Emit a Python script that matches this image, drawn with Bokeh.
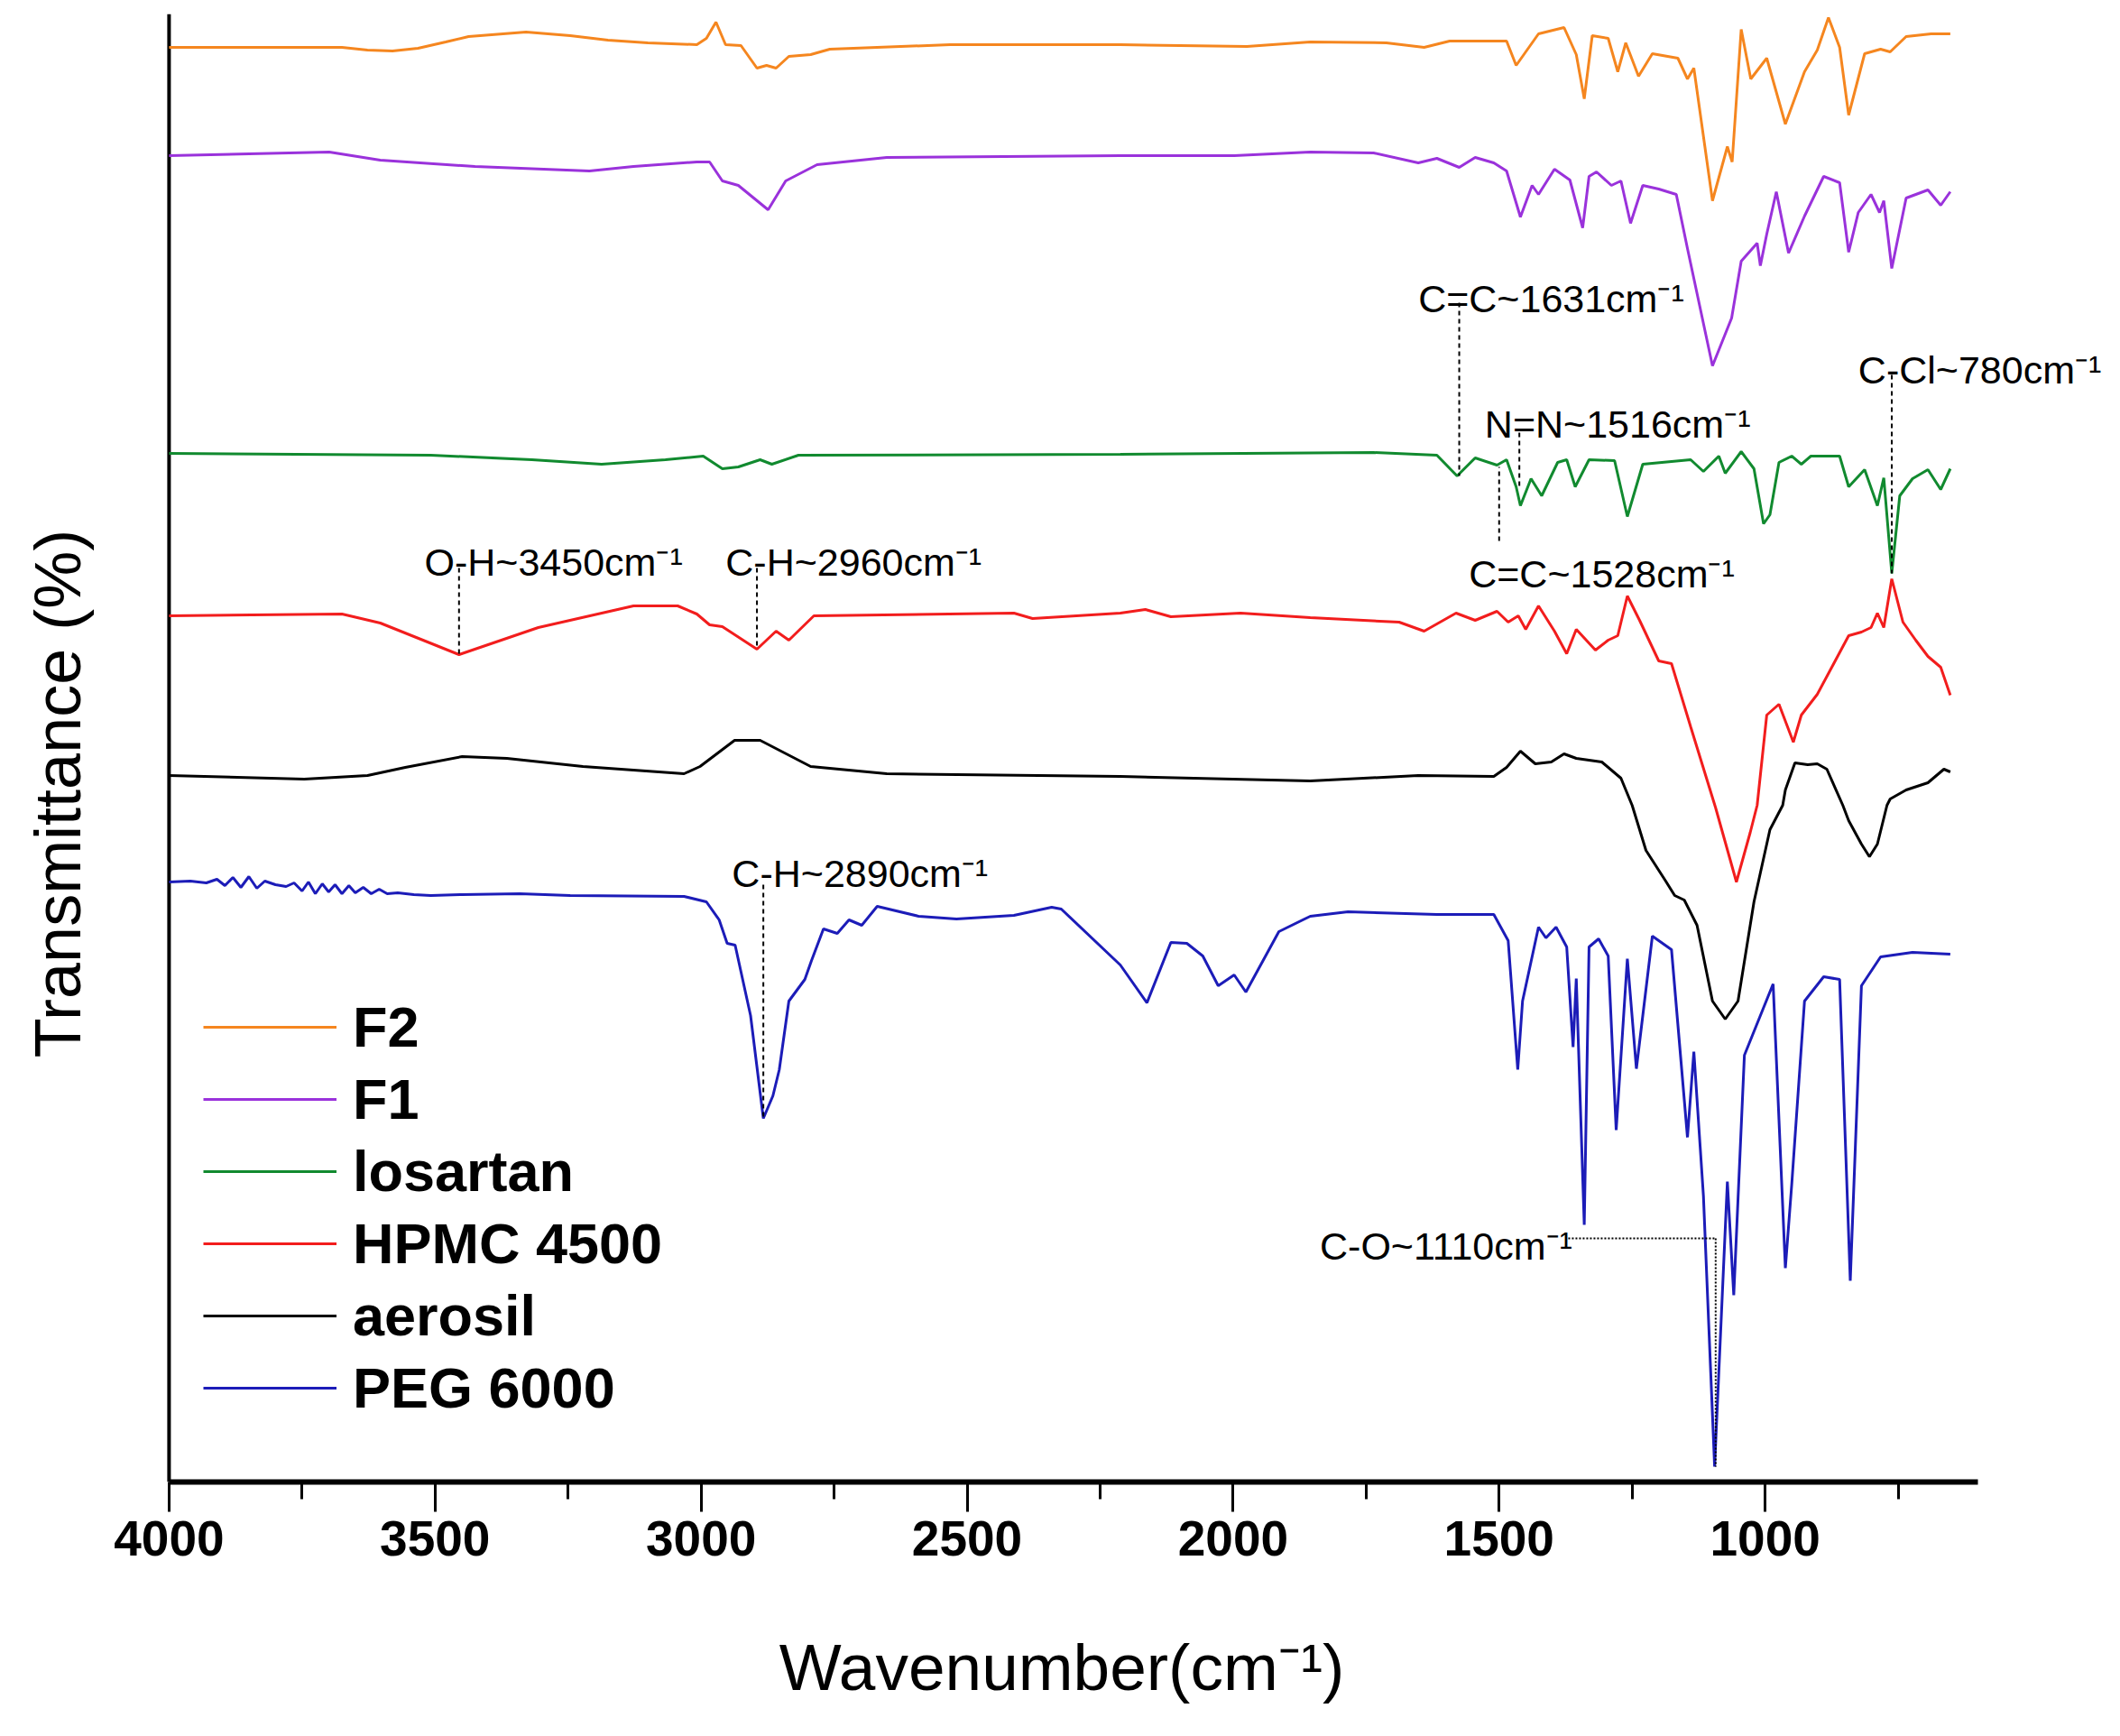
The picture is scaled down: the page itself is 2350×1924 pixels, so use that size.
import math

from bokeh.plotting import figure
from bokeh.models import Range1d, FixedTicker, Legend, LegendItem, Label
from bokeh.embed import file_html
from bokeh.resources import INLINE

# FTIR spectra, values (arbitrary transmittance units, curves offset)
f2_wn = [4000, 3675, 3627, 3580, 3532, 3480, 3437, 3329, 3246, 3175, 3100, 3008, 2990, 2972, 2954,
         2925, 2895, 2877, 2859, 2835, 2794, 2758, 2532, 2212, 1974, 1855, 1712, 1641, 1593, 1486,
         1468, 1426, 1378, 1355, 1340, 1325, 1295, 1277, 1262, 1238, 1212, 1164, 1146, 1134, 1099,
         1071, 1062, 1045, 1027, 997, 962, 926, 902, 881, 860, 843, 813, 783, 765, 735, 688, 652]
f2_t = [1590, 1590, 1587, 1586, 1589, 1596, 1602, 1607, 1603, 1598, 1595, 1593, 1600, 1618, 1593,
        1592, 1567, 1570, 1567, 1580, 1582, 1588, 1593, 1593, 1591, 1596, 1595, 1590, 1597, 1597,
        1570, 1605, 1612, 1582, 1533, 1603, 1600, 1563, 1595, 1558, 1583, 1578, 1555, 1567, 1420,
        1480, 1463, 1610, 1555, 1578, 1505, 1563, 1587, 1623, 1590, 1515, 1583, 1588, 1585, 1602,
        1605, 1605]

f1_wn = [4000, 3699, 3603, 3425, 3210, 3127, 3008, 2984, 2960, 2930, 2874, 2841, 2782, 2651, 2212,
         1998, 1855, 1736, 1652, 1617, 1575, 1545, 1510, 1486, 1460, 1438, 1426, 1396, 1367, 1343,
         1331, 1317, 1289, 1271, 1253, 1230, 1200, 1167, 1146, 1099, 1063, 1045, 1015, 1009, 997,
         979, 956, 926, 890, 860, 843, 825, 801, 785, 777, 762, 735, 694, 670, 652]
f1_t = [1470, 1474, 1465, 1458, 1453, 1458, 1463, 1463, 1442, 1437, 1410, 1442, 1460, 1468, 1470,
        1470, 1474, 1473, 1462, 1467, 1457, 1468, 1462, 1453, 1402, 1437, 1427, 1455, 1443, 1390,
        1447, 1452, 1437, 1442, 1395, 1437, 1433, 1427, 1367, 1237, 1290, 1353, 1373, 1348, 1383,
        1430, 1362, 1403, 1447, 1440, 1363, 1407, 1427, 1407, 1420, 1345, 1423, 1432, 1415, 1430]

los_wn = [4000, 3508, 3318, 3187, 3067, 2996, 2960, 2930, 2889, 2867, 2817, 2212, 1736, 1617, 1579,
          1545, 1504, 1486, 1468, 1460, 1440, 1420, 1390, 1373, 1357, 1331, 1283, 1259, 1230, 1140,
          1116, 1087, 1075, 1045, 1021, 1003, 991, 974, 950, 932, 914, 860, 843, 813, 789,
          777, 762, 747, 723, 694, 670, 652]
los_t = [1140, 1138, 1133, 1128, 1133, 1137, 1123, 1125, 1133, 1128, 1138, 1139, 1141, 1138, 1115,
         1135, 1127, 1133, 1103, 1082, 1112, 1093, 1130, 1133, 1103, 1133, 1132, 1070, 1128, 1133,
         1120, 1137, 1118, 1142, 1123, 1062, 1072, 1130, 1137, 1128, 1137, 1137, 1103, 1122, 1082,
         1113, 1007, 1093, 1112, 1122, 1100, 1123]

hpmc_wn = [4000, 3675, 3603, 3455, 3306, 3127, 3044, 3008, 2984, 2960, 2895, 2859, 2835, 2788, 2412,
           2377, 2212, 2165, 2117, 1986, 1855, 1688, 1641, 1581, 1545, 1504, 1483, 1464, 1450, 1426,
           1396, 1373, 1355, 1319, 1295, 1277, 1259, 1236, 1200, 1176, 1140, 1093, 1054, 1028, 1015,
           997, 974, 947, 932, 902, 843, 819, 801, 789, 777, 762, 741, 717, 694, 670, 652]
hpmc_t = [960, 962, 952, 917, 947, 971, 971, 962, 950, 948, 923, 943, 933, 960, 963,
          957, 963, 967, 959, 963, 958, 953, 943, 963, 955, 965, 953, 960, 945, 971,
          943, 918, 945, 922, 933, 938, 982, 955, 910, 907, 837, 747, 665, 720, 750,
          850, 862, 820, 850, 873, 938, 942, 947, 963, 947, 1001, 953, 933, 915, 903, 872]

aer_wn = [4000, 3746, 3627, 3556, 3449, 3365, 3222, 3032, 3002, 2937, 2889, 2794, 2651, 2212, 1855,
          1652, 1510, 1486, 1460, 1432, 1402, 1378, 1355, 1307, 1271, 1250, 1224, 1188, 1170, 1152,
          1128, 1099, 1075, 1051, 1021, 991, 967, 962, 944, 920, 902, 884, 854, 843, 819,
          804, 789, 771, 765, 735, 694, 664, 652]
aer_t = [783, 779, 783, 792, 804, 802, 793, 785, 793, 822, 822, 793, 785, 782, 777,
         783, 782, 792, 810, 796, 798, 807, 802, 798, 780, 750, 700, 667, 650, 645,
         617, 533, 513, 533, 643, 723, 750, 767, 797, 795, 796, 790, 750, 733, 707,
         693, 707, 750, 757, 767, 775, 790, 787]

peg_wn = [4000, 3960, 3930, 3910, 3895, 3880, 3865, 3850, 3835, 3820, 3800, 3780, 3765, 3750, 3738,
          3725, 3712, 3700, 3688, 3675, 3662, 3650, 3635, 3620, 3605, 3590, 3570, 3540, 3508, 3450,
          3341, 3246, 3032, 2990, 2966, 2951, 2936, 2907, 2883, 2865, 2853, 2835, 2805, 2793, 2770,
          2744, 2722, 2698, 2669, 2591, 2520, 2412, 2341, 2323, 2212, 2162, 2117, 2087, 2057, 2028,
          1998, 1976, 1914, 1855, 1784, 1617, 1510, 1483, 1465, 1456, 1426, 1412, 1393, 1373, 1361,
          1355, 1340, 1331, 1313, 1295, 1280, 1259, 1242, 1212, 1176, 1146, 1134, 1116, 1095, 1071,
          1059, 1039, 985, 962, 950, 926, 890, 860, 840, 819, 783, 723, 652]
peg_t = [665, 666, 664, 668, 661, 670, 659, 671, 658, 666, 662, 660, 664, 655, 665,
         652, 663, 654, 662, 652, 661, 653, 659, 652, 657, 652, 653, 651, 650, 651,
         652, 650, 649, 643, 623, 597, 595, 517, 403, 428, 457, 533, 557, 577, 613,
         608, 623, 617, 638, 627, 624, 628, 637, 635, 573, 531, 598, 597, 583, 550,
         562, 543, 610, 627, 632, 629, 629, 600, 457, 533, 615, 603, 615, 593, 482,
         558, 285, 593, 602, 583, 390, 580, 458, 605, 590, 382, 477, 317, 17, 333,
         207, 473, 552, 237, 330, 533, 560, 557, 223, 550, 582, 587, 585]

series = [("F2", f2_wn, f2_t, "#F5861F"),
          ("F1", f1_wn, f1_t, "#9A32DB"),
          ("losartan", los_wn, los_t, "#118A2F"),
          ("HPMC 4500", hpmc_wn, hpmc_t, "#F21D1D"),
          ("aerosil", aer_wn, aer_t, "#000000"),
          ("PEG 6000", peg_wn, peg_t, "#1C1CB8")]

major_ticks = [4000, 3500, 3000, 2500, 2000, 1500, 1000]
minor_ticks = [3750, 3250, 2750, 2250, 1750, 1250, 750]
wn_start, wn_end = 4000, 600      # extent of the drawn x axis
t_top = 1627                      # top of the y axis

# peak labels: left edge / baseline of the text, and the dashed marker lines
ann_text = ["O-H~3450cm⁻¹", "C-H~2960cm⁻¹", "C-H~2890cm⁻¹", "C=C~1631cm⁻¹",
            "N=N~1516cm⁻¹", "C=C~1528cm⁻¹", "C-Cl~780cm⁻¹", "C-O~1110cm⁻¹"]
ann_x = [3520, 2954, 2942, 1652, 1527, 1557, 825, 1837]
ann_y = [1020, 1020, 675, 1312, 1173, 1007, 1233, 262]
mark_x = [3455, 2895, 2883, 1575, 1462, 1500, 762]
mark_top = [1013, 1013, 662, 1307, 1163, 1043, 1227]
mark_bot = [917, 923, 403, 1115, 1103, 1125, 1007]
co_x = [1370, 1093]
co_y = [270, 17]

FONT = "Liberation Sans"

# the frame is wider than the drawn axes on both sides, so that the C-Cl label
# is not cut and the titles sit where they do in the original
p = figure(width=2334, height=1908, x_range=Range1d(4283, 361), y_range=Range1d(0, t_top),
           output_backend="svg", toolbar_location=None,
           min_border_left=20, min_border_right=1, min_border_top=15, min_border_bottom=266)
p.grid.visible = False
p.outline_line_color = None
p.background_fill_color = "white"

# x axis
p.xaxis.bounds = (wn_end, wn_start)
p.xaxis.ticker = FixedTicker(ticks=major_ticks, minor_ticks=minor_ticks)
p.xaxis.axis_label = "Wavenumber(cm⁻¹)"
p.xaxis.axis_label_text_font = FONT
p.xaxis.axis_label_text_font_size = "73px"
p.xaxis.axis_label_text_font_style = "normal"
p.xaxis.axis_label_text_color = "black"
p.xaxis.axis_label_standoff = 80
p.xaxis.major_label_text_font = FONT
p.xaxis.major_label_text_font_size = "55px"
p.xaxis.major_label_text_font_style = "bold"
p.xaxis.major_label_text_color = "black"
p.xaxis.major_label_standoff = 10
p.xaxis.axis_line_width = 6
p.xaxis.axis_line_color = "black"
p.xaxis.major_tick_line_width = 3
p.xaxis.minor_tick_line_width = 3
p.xaxis.major_tick_line_color = "black"
p.xaxis.minor_tick_line_color = "black"
p.xaxis.major_tick_out = 33
p.xaxis.major_tick_in = 0
p.xaxis.minor_tick_out = 19
p.xaxis.minor_tick_in = 0

# y axis: a plain line at 4000 cm-1 and a rotated title
p.yaxis.visible = False
p.segment(x0=[wn_start], y0=[0], x1=[wn_start], y1=[t_top], line_color="black", line_width=4)
p.add_layout(Label(x=4210, y=763, text="Transmittance (%)", angle=math.pi / 2,
                   text_font=FONT, text_font_size="72px", text_align="center",
                   text_baseline="alphabetic", text_color="black"))

items = []
for name, wn, t, col in series:
    r = p.line(wn, t, line_color=col, line_width=3)
    items.append(LegendItem(label=name, renderers=[r]))

p.segment(x0=mark_x, y0=mark_top, x1=mark_x, y1=mark_bot,
          line_color="black", line_width=2, line_dash="5 4")
p.segment(x0=[co_x[0], co_x[1]], y0=[co_y[0], co_y[0]], x1=[co_x[1], co_x[1]], y1=[co_y[0], co_y[1]],
          line_color="black", line_width=2, line_dash="2 2")

for txt, x, y in zip(ann_text, ann_x, ann_y):
    p.add_layout(Label(x=x, y=y, text=txt, text_font=FONT, text_font_size="43px",
                       text_align="left", text_baseline="alphabetic", text_color="black"))

legend = Legend(items=items, location=(205, 68), orientation="vertical",
                glyph_width=148, glyph_height=60, label_height=60, spacing=8,
                padding=0, margin=0, label_standoff=18,
                label_text_font=FONT, label_text_font_size="63px", label_text_font_style="bold",
                label_text_color="black",
                border_line_color=None, background_fill_alpha=0)
p.add_layout(legend)

open("out.html", "w").write(file_html(p, INLINE))
